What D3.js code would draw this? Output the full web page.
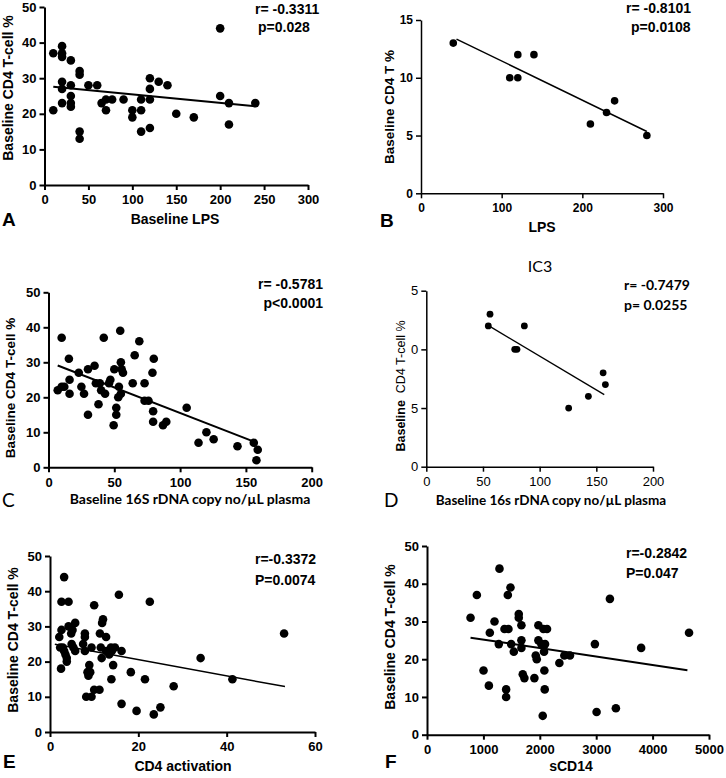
<!DOCTYPE html>
<html>
<head>
<meta charset="utf-8">
<script src="https://cdn.jsdelivr.net/npm/d3@7"></script>
<style>
  body { margin: 0; background: #fff; }
  svg { display: block; }
</style>
</head>
<body>
<svg id="chart" width="726" height="778"></svg>
<script>
// Panel A: baseline LPS vs baseline CD4 T-cell %
const aLps = [10, 10, 20, 20, 20, 20, 20, 20, 30, 30, 30, 30, 30, 40, 40, 40, 40, 50, 60, 65, 70, 70, 77, 90, 100, 100,
  110, 110, 110, 120, 120, 120, 120, 130, 140, 150, 170, 200, 200, 210, 210, 240];
const aCd4 = [37, 21, 39, 37, 36, 29, 27, 23, 35, 28, 25, 23, 22, 32, 31, 15, 13, 28, 28, 23, 21, 24, 24, 24, 21, 19,
  24, 21, 15, 30, 27, 24, 16, 29, 28, 20, 19, 44, 25, 23, 17, 23];
const aFit = [[10, 27.6], [240, 22.1]];

// Panel B: LPS vs baseline CD4 T %
const bLps = [40, 110, 120, 120, 140, 210, 230, 240, 280];
const bCd4 = [13, 10, 10, 12, 12, 6, 7, 8, 5];
const bFit = [[44, 13.35], [280, 5.35]];

// Panel C: 16S rDNA copies vs CD4 %
const cRdna = [7, 10, 10, 12, 15.5, 16, 16, 23, 25, 27, 30, 30, 35, 36, 38, 39, 40, 42, 43, 46, 47, 50, 49.5, 51.5, 51.5,
  53, 53.5, 54.5, 55, 55, 55.6, 56.6, 64, 65.5, 69, 73, 73, 76, 79, 80, 79.5, 79.5, 87, 89.5, 105, 114, 120, 125.5,
  143.6, 156, 159, 158];
const cCd4 = [22, 37, 23, 23, 31, 25, 21, 27, 23, 21, 15, 28, 29, 24, 18, 24, 22, 37, 21, 24, 25, 28, 12, 17, 15,
  20, 23, 39, 30, 21, 28, 27, 24, 32, 36, 24, 19, 19, 27, 31, 16, 13, 12, 13, 17, 7, 10, 8,
  6, 7, 5, 2];
const cFit = [[7, 29.1], [155.6, 7.4]];

// Panel D: IC3 subgroup
const dRdna = [54.7, 56.2, 86.5, 78, 80, 125.6, 143, 156, 158];
const dCd4 = [12, 13, 12, 10, 10, 5, 6, 8, 7];
const dFit = [[55.3, 12.0], [157, 6.14]];

// Panel E: CD4 activation
const eAct = [3.2, 2.6, 4.2, 2.1, 2.6, 2.3, 2.9, 2.5, 3.2, 3.5, 3.8, 3.8, 4.2, 4.8, 5.1, 5.7, 4.9, 5.3, 5.7, 7.5, 7.9,
  7.9, 7.9, 8.2, 8.5, 8.7, 8.9, 9.1, 9.4, 9.4, 10, 10, 11.2, 11.3, 11.5, 11.7, 11.8, 12, 12.7, 12.7, 13.4, 13.8, 14,
  14.3, 13.9, 14.7, 15.6, 16.2, 16.2, 18.3, 19.6, 21.5, 22.6, 23.5, 25, 28, 34.1, 41.3, 53];
const eCd4 = [44, 37, 37, 27, 29, 24, 24, 18, 23, 22, 21, 20, 30, 28, 29, 31, 25, 24, 23, 25, 28,
  27, 23, 10, 17, 16, 19, 17, 10, 24, 36, 12, 12, 28, 24, 21, 31, 32, 27, 23, 22, 24, 23,
  19, 15, 24, 39, 23, 8, 17, 6, 15, 37, 5, 7, 13, 21, 15, 28];
const eFit = [[1.1, 24.9], [53.2, 12.9]];

// Panel F: sCD14
const fScd14 = [772, 884, 1002, 1097, 1114, 1197, 1273, 1285, 1374, 1403, 1403, 1433, 1444, 1480, 1492, 1539, 1627,
  1627, 1674, 1674, 1674, 1698, 1727, 1904, 1928, 1946, 1975, 1975, 2028, 2052, 2064, 2075, 2081, 2087, 2093, 2128,
  2347, 2435, 2535, 2977, 3007, 3243, 3349, 3797, 4646];
const fCd4 = [31, 37, 17, 13, 27, 30, 24, 44, 28, 12, 10, 37, 28, 39, 24, 22, 32,
  31, 29, 25, 23, 16, 15, 15, 21, 20, 29, 25, 24, 5, 28, 22, 17, 12, 24, 28,
  19, 21, 21, 24, 6, 36, 7, 23, 27];
const fFit = [[772, 25.7], [4617, 17.1]];

const ARIAL = '"Liberation Sans", Arial, sans-serif';
const CALIBRI = 'Lato, "Open Sans", sans-serif';

const svg = d3.select('#chart');
svg.append('rect').attr('width', 726).attr('height', 778).attr('fill', '#fff');

function drawPanel(p) {
  const x = d3.scaleLinear().domain(p.xDomain).range(p.xRange);
  const y = d3.scaleLinear().domain(p.yDomain).range(p.yRange);
  const g = svg.append('g');

  const xAxis = g.append('g')
    .attr('transform', `translate(0,${p.yRange[0]})`)
    .call(d3.axisBottom(x).tickValues(p.xTicks).tickSize(5).tickSizeOuter(0).tickPadding(5)
      .tickFormat(d3.format('d')));
  const yAxis = g.append('g')
    .attr('transform', `translate(${p.xRange[0]},0)`)
    .call(d3.axisLeft(y).tickValues(p.yTicks).tickSize(5).tickSizeOuter(0).tickPadding(3)
      .tickFormat(p.yFormat || d3.format('d')));

  [xAxis, yAxis].forEach((ax) => {
    ax.attr('font-family', p.tickFont || ARIAL);
    ax.select('.domain').attr('stroke', '#000').attr('stroke-width', p.axisWidth);
    ax.selectAll('.tick line').attr('stroke', '#000').attr('stroke-width', p.axisWidth);
    ax.selectAll('.tick text')
      .attr('fill', '#000')
      .style('font-family', p.tickFont || ARIAL)
      .style('font-weight', p.tickWeight || 'bold')
      .style('font-size', `${p.tickSize}px`);
  });

  g.append('path')
    .datum(p.fit)
    .attr('fill', 'none')
    .attr('stroke', '#000')
    .attr('stroke-width', p.lineWidth)
    .attr('d', d3.line().x((d) => x(d[0])).y((d) => y(d[1])));

  g.append('g')
    .selectAll('circle')
    .data(p.xs.map((v, i) => [v, p.ys[i]]))
    .enter()
    .append('circle')
    .attr('cx', (d) => x(d[0]))
    .attr('cy', (d) => y(d[1]))
    .attr('r', p.dotR)
    .attr('fill', '#000');

  p.texts.forEach((t) => {
    const el = g.append('text')
      .attr('x', t.x)
      .attr('y', t.y)
      .attr('fill', '#000')
      .attr('text-anchor', t.anchor || 'start')
      .style('font-family', t.font || ARIAL)
      .style('font-weight', t.weight || 'bold')
      .style('font-size', `${t.size}px`);
    if (t.rotate) el.attr('transform', `rotate(-90,${t.x},${t.y})`);
    if (t.parts) {
      t.parts.forEach((part) => {
        el.append('tspan')
          .style('font-weight', part.weight)
          .attr('xml:space', 'preserve')
          .text(part.text);
      });
    } else {
      el.text(t.text);
    }
  });
}

drawPanel({
  xs: aLps, ys: aCd4, fit: aFit,
  xDomain: [0, 300], xRange: [44.5, 308], xTicks: [0, 50, 100, 150, 200, 250, 300],
  yDomain: [0, 50], yRange: [185, 7], yTicks: [0, 10, 20, 30, 40, 50],
  axisWidth: 2, lineWidth: 2, dotR: 4.3, tickSize: 13,
  texts: [
    { text: 'r= -0.3311', x: 255, y: 14, size: 14 },
    { text: 'p=0.028', x: 258, y: 32, size: 14 },
    { text: 'Baseline LPS', x: 175, y: 224, size: 14, anchor: 'middle' },
    { text: 'Baseline CD4 T-cell %', x: 13, y: 88, size: 14, anchor: 'middle', rotate: true },
    { text: 'A', x: 2, y: 226, size: 19 },
  ],
});

drawPanel({
  xs: bLps, ys: bCd4, fit: bFit,
  xDomain: [0, 300], xRange: [421, 663], xTicks: [0, 100, 200, 300],
  yDomain: [0, 15], yRange: [193.3, 20], yTicks: [0, 5, 10, 15],
  axisWidth: 1.5, lineWidth: 1.5, dotR: 3.8, tickSize: 12,
  texts: [
    { text: 'r= -0.8101', x: 626, y: 13, size: 14 },
    { text: 'p=0.0108', x: 631, y: 32, size: 14 },
    { text: 'LPS', x: 542, y: 232, size: 14, anchor: 'middle' },
    { text: 'Baseline CD4 T %', x: 394, y: 107, size: 13.5, anchor: 'middle', rotate: true },
    { text: 'B', x: 380, y: 227, size: 19 },
  ],
});

drawPanel({
  xs: cRdna, ys: cCd4, fit: cFit,
  xDomain: [0, 200], xRange: [48.5, 311.7], xTicks: [0, 50, 100, 150, 200],
  yDomain: [0, 50], yRange: [467.3, 292.3], yTicks: [0, 10, 20, 30, 40, 50],
  axisWidth: 2, lineWidth: 2, dotR: 4.3, tickSize: 13,
  texts: [
    { text: 'r= -0.5781', x: 323, y: 289, size: 14, anchor: 'end' },
    { text: 'p<0.0001', x: 323, y: 308, size: 14, anchor: 'end' },
    { text: 'Baseline 16S rDNA copy no/µL plasma', x: 190, y: 504, size: 14, anchor: 'middle', font: CALIBRI },
    { text: 'Baseline CD4 T-cell %', x: 15, y: 388, size: 13.5, anchor: 'middle', rotate: true },
    { text: 'C', x: 2, y: 507, size: 19, weight: 'normal', font: CALIBRI },
  ],
});

drawPanel({
  xs: dRdna, ys: dCd4, fit: dFit,
  xDomain: [0, 200], xRange: [426.3, 653], xTicks: [0, 50, 100, 150, 200],
  yDomain: [0, 15], yRange: [466.7, 290.7], yTicks: [0, 5, 10, 15],
  yFormat: (d) => String(d).slice(-1),
  axisWidth: 1.5, lineWidth: 1.3, dotR: 3.4, tickSize: 13, tickWeight: 'normal',
  texts: [
    { text: 'IC3', x: 540, y: 272, size: 16, anchor: 'middle', weight: 'normal', font: CALIBRI },
    { text: 'r= -0.7479', x: 624, y: 290, size: 14, font: CALIBRI },
    { text: 'p= 0.0255', x: 624, y: 310, size: 14, font: CALIBRI },
    { text: 'Baseline 16s rDNA copy no/µL plasma', x: 551, y: 505, size: 13.5, anchor: 'middle', font: CALIBRI },
    { x: 405, y: 386, size: 12.5, anchor: 'middle', rotate: true, weight: 'normal',
      parts: [{ text: 'Baseline  ', weight: 'bold' }, { text: 'CD4 T-cell %', weight: 'normal' }] },
    { text: 'D', x: 384, y: 507, size: 19, weight: 'normal', font: CALIBRI },
  ],
});

drawPanel({
  xs: eAct, ys: eCd4, fit: eFit,
  xDomain: [0, 60], xRange: [50, 315], xTicks: [0, 20, 40, 60],
  yDomain: [0, 50], yRange: [732, 556], yTicks: [0, 10, 20, 30, 40, 50],
  axisWidth: 2, lineWidth: 1.5, dotR: 4.3, tickSize: 13,
  texts: [
    { text: 'r=-0.3372', x: 255, y: 564, size: 14 },
    { text: 'P=0.0074', x: 255, y: 585, size: 14 },
    { text: 'CD4 activation', x: 183, y: 771, size: 14, anchor: 'middle' },
    { text: 'Baseline CD4 T-cell %', x: 18, y: 640, size: 14, anchor: 'middle', rotate: true },
    { text: 'E', x: 3, y: 768, size: 19 },
  ],
});

drawPanel({
  xs: fScd14, ys: fCd4, fit: fFit,
  xDomain: [0, 5000], xRange: [427, 709], xTicks: [0, 1000, 2000, 3000, 4000, 5000],
  yDomain: [0, 50], yRange: [734.7, 546], yTicks: [0, 10, 20, 30, 40, 50],
  axisWidth: 2, lineWidth: 2, dotR: 4.3, tickSize: 13,
  texts: [
    { text: 'r=-0.2842', x: 626, y: 558, size: 14 },
    { text: 'P=0.047', x: 626, y: 578, size: 14 },
    { text: 'sCD14', x: 571, y: 771, size: 14, anchor: 'middle' },
    { text: 'Baseline CD4 T-cell %', x: 395, y: 637, size: 14, anchor: 'middle', rotate: true },
    { text: 'F', x: 385, y: 768, size: 19 },
  ],
});
</script>
</body>
</html>
